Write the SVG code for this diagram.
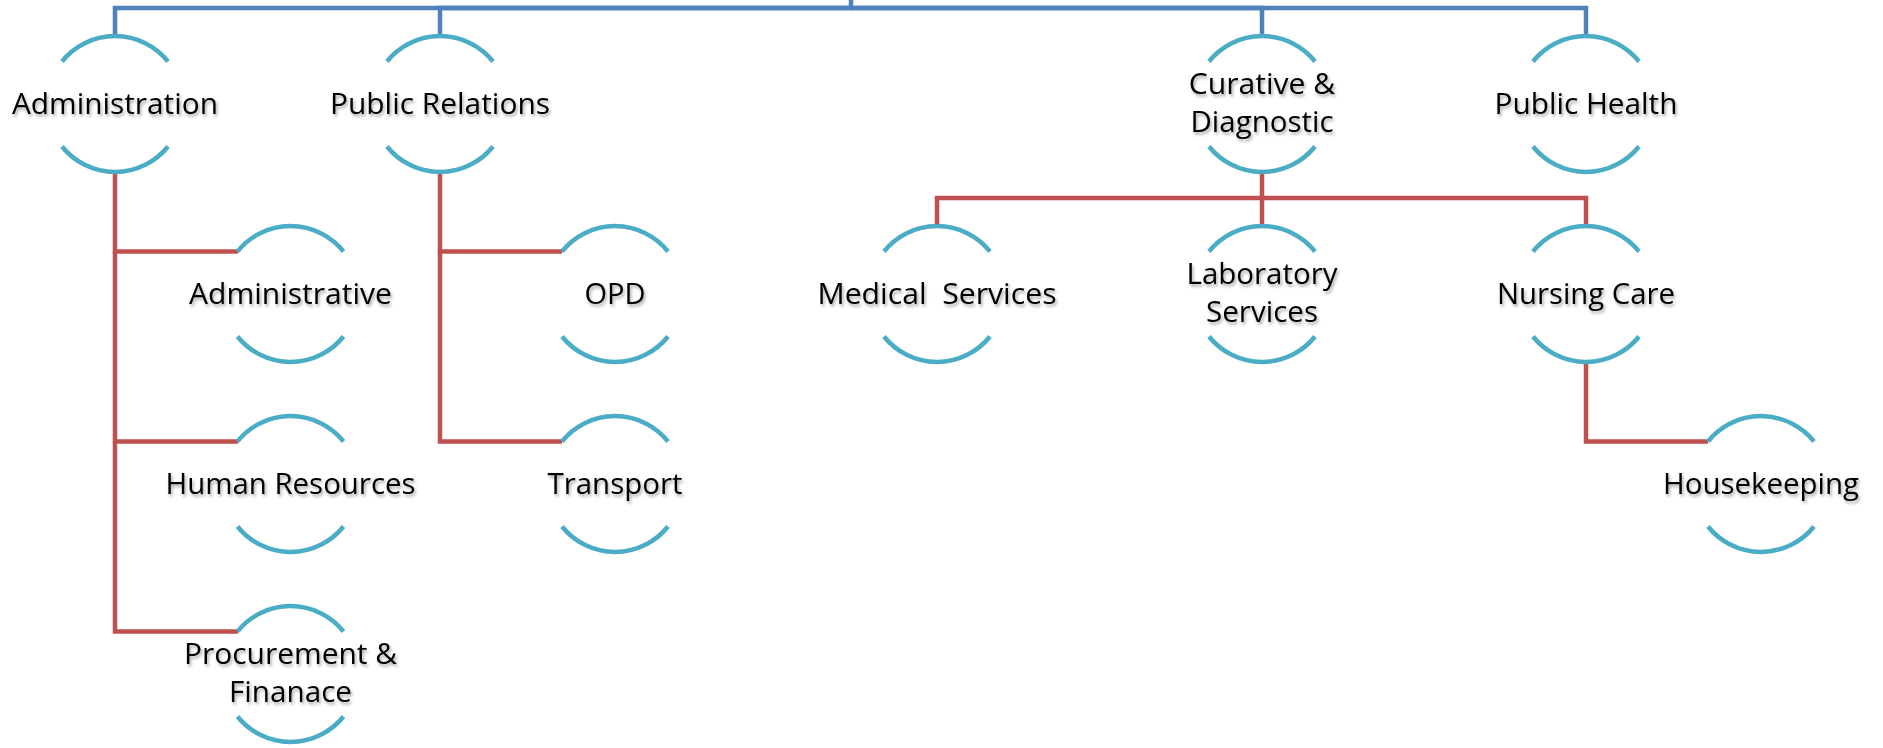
<svg xmlns="http://www.w3.org/2000/svg" xmlns:xlink="http://www.w3.org/1999/xlink" width="1883" height="748" viewBox="0 0 1883 748">
  <style>
    .blue { fill: none; stroke: #4F81BD; stroke-width: 4.5; }
    .red { fill: none; stroke: #C0504D; stroke-width: 4.5; }
    .arc { fill: none; stroke: #4BACC6; stroke-width: 4.5; }
    .lbl { font-family: "Open Sans", "Noto Sans", "Liberation Sans", sans-serif; font-size: 29.5px; fill: #000; text-anchor: middle; filter: url(#shadow); }
  </style>
  <defs>
    <filter id="shadow" x="-20%" y="-40%" width="140%" height="190%">
      <feDropShadow dx="1.5" dy="2.5" stdDeviation="1.6" flood-color="#000" flood-opacity="0.35"/>
    </filter>
    <g id="ring">
      <path class="arc" d="M-53,-42.5 A68,68 0 0 1 53,-42.5"/>
      <path class="arc" d="M-53,42.5 A68,68 0 0 0 53,42.5"/>
    </g>
  </defs>
  <rect width="1883" height="748" fill="#fff"/>

  <g id="connectors">
    <path class="blue" d="M851,0 V8 H115 V36"/>
    <path class="blue" d="M851,8 H440 V36"/>
    <path class="blue" d="M851,8 H1262 V36"/>
    <path class="blue" d="M851,8 H1586 V36"/>
    <path class="red" d="M115,172 V251.5 H238"/>
    <path class="red" d="M115,251.5 V441.5 H238"/>
    <path class="red" d="M115,441.5 V631.5 H238"/>
    <path class="red" d="M440,172 V251.5 H562"/>
    <path class="red" d="M440,251.5 V441.5 H562"/>
    <path class="red" d="M1262,172 V198 H937 V226"/>
    <path class="red" d="M1262,198 V226"/>
    <path class="red" d="M1262,198 H1586 V226"/>
    <path class="red" d="M1586,362 V441.5 H1708"/>
  </g>

  <g id="node-administration" transform="translate(115,104)">
    <use href="#ring"/>
    <text class="lbl" x="0" y="9.5" textLength="206" lengthAdjust="spacingAndGlyphs">Administration</text>
  </g>
  <g id="node-public-relations" transform="translate(440,104)">
    <use href="#ring"/>
    <text class="lbl" x="0" y="9.5" textLength="220" lengthAdjust="spacingAndGlyphs">Public Relations</text>
  </g>
  <g id="node-curative" transform="translate(1262,104)">
    <use href="#ring"/>
    <text class="lbl" x="0" y="-10" textLength="146.5" lengthAdjust="spacingAndGlyphs">Curative &amp;</text>
    <text class="lbl" x="0" y="28" textLength="143" lengthAdjust="spacingAndGlyphs">Diagnostic</text>
  </g>
  <g id="node-public-health" transform="translate(1586,104)">
    <use href="#ring"/>
    <text class="lbl" x="0" y="9.5" textLength="183" lengthAdjust="spacingAndGlyphs">Public Health</text>
  </g>
  <g id="node-administrative" transform="translate(290.5,294)">
    <use href="#ring"/>
    <text class="lbl" x="0" y="9.5" textLength="203" lengthAdjust="spacingAndGlyphs">Administrative</text>
  </g>
  <g id="node-human-resources" transform="translate(290.5,484)">
    <use href="#ring"/>
    <text class="lbl" x="0" y="9.5" textLength="250" lengthAdjust="spacingAndGlyphs">Human Resources</text>
  </g>
  <g id="node-procurement" transform="translate(290.5,674)">
    <use href="#ring"/>
    <text class="lbl" x="0" y="-10" textLength="213" lengthAdjust="spacingAndGlyphs">Procurement &amp;</text>
    <text class="lbl" x="0" y="28" textLength="123" lengthAdjust="spacingAndGlyphs">Finanace</text>
  </g>
  <g id="node-opd" transform="translate(615,294)">
    <use href="#ring"/>
    <text class="lbl" x="0" y="9.5" textLength="61" lengthAdjust="spacingAndGlyphs">OPD</text>
  </g>
  <g id="node-transport" transform="translate(615,484)">
    <use href="#ring"/>
    <text class="lbl" x="0" y="9.5" textLength="135" lengthAdjust="spacingAndGlyphs">Transport</text>
  </g>
  <g id="node-medical-services" transform="translate(937,294)">
    <use href="#ring"/>
    <text class="lbl" x="0" y="9.5" xml:space="preserve" style="white-space:pre" textLength="239" lengthAdjust="spacingAndGlyphs">Medical  Services</text>
  </g>
  <g id="node-laboratory-services" transform="translate(1262,294)">
    <use href="#ring"/>
    <text class="lbl" x="0" y="-10" textLength="151" lengthAdjust="spacingAndGlyphs">Laboratory</text>
    <text class="lbl" x="0" y="28" textLength="112" lengthAdjust="spacingAndGlyphs">Services</text>
  </g>
  <g id="node-nursing-care" transform="translate(1586,294)">
    <use href="#ring"/>
    <text class="lbl" x="0" y="9.5" textLength="178" lengthAdjust="spacingAndGlyphs">Nursing Care</text>
  </g>
  <g id="node-housekeeping" transform="translate(1761,484)">
    <use href="#ring"/>
    <text class="lbl" x="0" y="9.5" textLength="196" lengthAdjust="spacingAndGlyphs">Housekeeping</text>
  </g>
</svg>
